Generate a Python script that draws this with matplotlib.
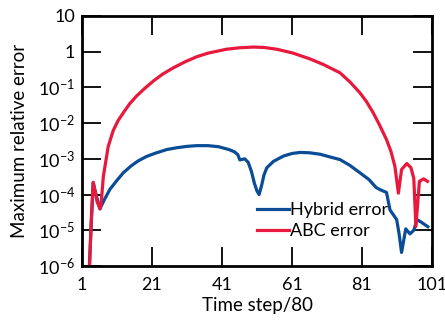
import numpy as np
import matplotlib.pyplot as plt

plt.rcParams['font.family'] = ['Lato', 'DejaVu Sans']
plt.rcParams['mathtext.fontset'] = 'custom'
plt.rcParams['mathtext.rm'] = 'Lato'
plt.rcParams['mathtext.it'] = 'Lato'

# log10 of maximum relative error
hybrid_t = [3, 4.2, 5, 6.1, 7.4, 9, 11, 12.8, 15, 17, 19.5, 22, 25.2, 28, 31, 33.8, 37,
            40, 43, 44.5, 45.5, 46.1, 47.5, 48.5, 49.4, 50.3, 51, 51.6, 52.3, 53, 53.8,
            55.7, 58.6, 61, 63.3, 66, 69, 72, 74.7, 77.5, 80.4, 83, 85, 86.1, 88, 89,
            90.9, 91.6, 92.3, 93.5, 94.7, 95.8, 96.7, 97.9, 99.8]
hybrid_log = [-6.2, -3.66, -4.0, -4.4, -4.14, -3.85, -3.6, -3.39, -3.2, -3.06, -2.93,
              -2.84, -2.74, -2.69, -2.65, -2.63, -2.63, -2.66, -2.74, -2.8, -2.88, -3.03,
              -3.0, -3.1, -3.35, -3.7, -3.9, -4.0, -3.75, -3.45, -3.25, -3.07, -2.92,
              -2.85, -2.82, -2.83, -2.87, -2.95, -3.02, -3.18, -3.39, -3.58, -3.8, -3.86,
              -3.94, -4.43, -4.7, -5.1, -5.62, -4.96, -5.1, -5.0, -4.7, -4.77, -4.9]

abc_t = [3.1, 3.6, 4.2, 4.7, 5.3, 6.2, 6.6, 7.1, 8.5, 9.95, 11.3, 12.8, 14.6, 16.6, 19,
         21.4, 24, 27.1, 30.5, 33.8, 37, 42.3, 46, 49.9, 53, 56.6, 61, 66.1, 70, 74.7,
         77.5, 80.4, 82.3, 84.2, 86, 88, 89.3, 90.4, 91.4, 92.3, 93.8, 95, 95.8, 96.4,
         97.4, 98.6, 99.7]
abc_log = [-6.2, -4.8, -3.66, -3.9, -4.2, -4.4, -4.1, -3.49, -2.65, -2.2, -1.93, -1.71,
           -1.46, -1.24, -1.02, -0.82, -0.63, -0.45, -0.28, -0.14, -0.04, 0.07, 0.11,
           0.13, 0.12, 0.07, -0.03, -0.2, -0.36, -0.59, -0.84, -1.15, -1.4, -1.71, -2.05,
           -2.46, -2.8, -3.21, -3.96, -3.3, -3.13, -3.25, -3.55, -4.89, -3.63, -3.56,
           -3.63]

ytick_vals = [1e-6, 1e-5, 1e-4, 1e-3, 1e-2, 1e-1, 1, 10]
ytick_labels = ['$10^{-6}$', '$10^{-5}$', '$10^{-4}$', '$10^{-3}$', '$10^{-2}$',
                '$10^{-1}$', '1', '10']
xtick_vals = [1, 21, 41, 61, 81, 101]

fig = plt.figure(figsize=(4.45, 3.2), dpi=100)
ax = fig.add_axes([82 / 445, 1 - 266 / 320, 350 / 445, 250 / 320])

ax.semilogy(hybrid_t, 10 ** np.array(hybrid_log), color='#0b4c97', lw=2.3,
            label='Hybrid error', solid_joinstyle='round')
ax.semilogy(abc_t, 10 ** np.array(abc_log), color='#e9183d', lw=2.3,
            label='ABC error', solid_joinstyle='round')

ax.set_xlim(1, 101)
ax.set_ylim(1e-6, 10)
ax.set_xticks(xtick_vals)
ax.set_yticks(ytick_vals)
ax.set_yticklabels(ytick_labels)
ax.minorticks_off()
ax.tick_params(axis='both', direction='in', length=14, width=1.3, labelsize=13,
               top=True, right=True)
ax.tick_params(axis='x', pad=8)
ax.tick_params(axis='y', pad=5)
for s in ax.spines.values():
    s.set_linewidth(2)

ax.set_xlabel('Time step/80', fontsize=13.5, labelpad=3)
ax.set_ylabel('Maximum relative error', fontsize=13.5, labelpad=7)

ax.legend(loc='upper left', bbox_to_anchor=(0.5, 0.255), frameon=False, fontsize=13,
          handlelength=1.75, handletextpad=0.1, labelspacing=0.28, borderaxespad=0,
          borderpad=0)

fig.savefig('out.png', dpi=100)
